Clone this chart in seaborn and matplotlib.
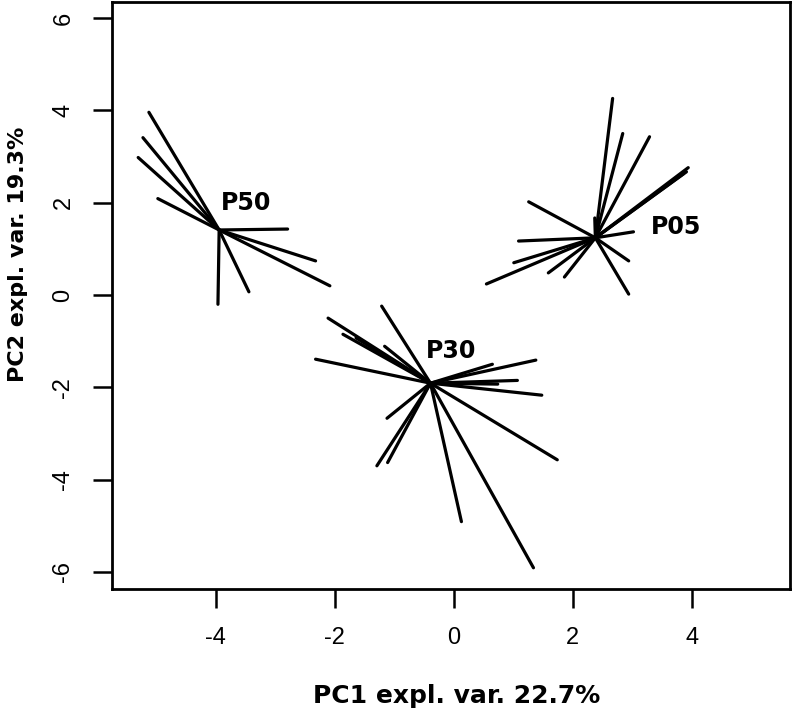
import pandas as pd
import numpy as np
import matplotlib
matplotlib.use("Agg")
import matplotlib.pyplot as plt
import seaborn as sns

# group centroids
groups = ["P50", "P30", "P05"]
center_x = [-3.94, -0.39, 2.38]
center_y = [1.41, -1.91, 1.24]

# label positions
label_x = [-3.49, -0.04, 3.74]
label_y = [2.00, -1.22, 1.47]

# individual samples (end of each star ray)
p50_x = [-5.12, -5.22, -5.30, -4.97, -2.79, -2.32, -2.08, -3.44, -3.96]
p50_y = [3.96, 3.41, 2.98, 2.09, 1.43, 0.74, 0.20, 0.07, -0.20]

p30_x = [-1.21, -2.11, -1.86, -1.64, -1.16, -2.32, 1.38, 0.65, 1.07, 0.74,
         1.48, 1.74, -1.12, -1.29, -1.11, 0.13, 1.34]
p30_y = [-0.24, -0.50, -0.85, -0.93, -1.11, -1.39, -1.41, -1.50, -1.85, -1.93,
         -2.17, -3.57, -2.67, -3.70, -3.63, -4.91, -5.91]

p05_x = [2.67, 2.84, 3.29, 3.94, 3.91, 3.86, 1.26, 3.02, 1.09, 1.01, 0.55,
         1.59, 1.86, 2.94, 2.94, 2.37]
p05_y = [4.26, 3.50, 3.43, 2.76, 2.67, 2.63, 2.02, 1.37, 1.17, 0.70, 0.24,
         0.48, 0.39, 0.74, 0.02, 1.67]

samples = {"P50": (p50_x, p50_y), "P30": (p30_x, p30_y), "P05": (p05_x, p05_y)}

rows = []
seg = 0
for g, cx, cy in zip(groups, center_x, center_y):
    xs, ys = samples[g]
    for x, y in zip(xs, ys):
        rows.append({"seg": seg, "group": g, "x": cx, "y": cy})
        rows.append({"seg": seg, "group": g, "x": x, "y": y})
        seg += 1
df = pd.DataFrame(rows)

sns.set_style("white", {"text.color": "black", "axes.labelcolor": "black",
                        "xtick.color": "black", "ytick.color": "black",
                        "axes.edgecolor": "black"})
fig = plt.figure(figsize=(7.92, 7.10), dpi=100)
ax = fig.add_axes([0.1414, 0.1704, 0.8561, 0.8268])

sns.lineplot(data=df, x="x", y="y", units="seg", estimator=None, sort=False,
             color="black", lw=2.3, ax=ax, legend=False)

for g, lx, ly in zip(groups, label_x, label_y):
    ax.text(lx, ly, g, fontsize=17, fontweight="bold", ha="center", va="center",
            family="DejaVu Sans", color="black")

ax.set_xlim(-5.74, 5.65)
ax.set_ylim(-6.37, 6.35)
ax.set_xticks([-4, -2, 0, 2, 4])
ax.set_yticks([-6, -4, -2, 0, 2, 4, 6])
ax.set_xticklabels(["-4", "-2", "0", "2", "4"], family="Liberation Sans", fontsize=17)
ax.set_yticklabels(["-6", "-4", "-2", "0", "2", "4", "6"], family="Liberation Sans",
                   fontsize=17, rotation=90, va="center")
ax.tick_params(axis="both", direction="out", length=14, width=1.8, color="black",
               left=True, bottom=True, pad=13)
for s in ax.spines.values():
    s.set_visible(True)
    s.set_color("black")
    s.set_linewidth(2)

ax.set_xlabel("PC1 expl. var. 22.7%", fontsize=18, fontweight="bold",
              family="DejaVu Sans", labelpad=27)
ax.set_ylabel("PC2 expl. var. 19.3%", fontsize=16, fontweight="bold",
              family="DejaVu Sans")
ax.yaxis.set_label_coords(-0.124, 0.571)
ax.xaxis.set_label_coords(0.509, -0.162)

fig.savefig("out.png", dpi=100)
